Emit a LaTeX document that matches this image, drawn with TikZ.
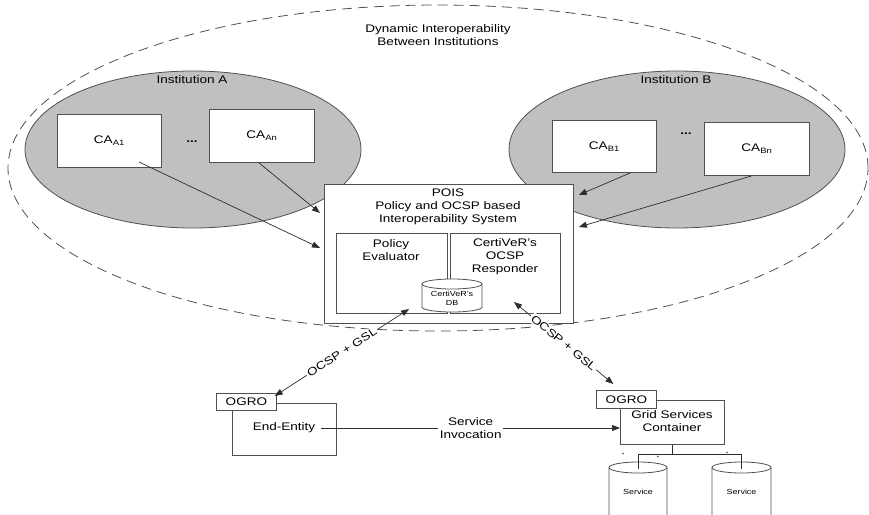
\documentclass[tikz,border=0pt]{standalone}
\usepackage{fontspec}
\setmainfont{Liberation Sans}[FakeStretch=1.23]
\usetikzlibrary{arrows.meta,calc}
\definecolor{boxc}{RGB}{80,80,80}
\definecolor{arrc}{RGB}{45,45,45}
\definecolor{instfill}{RGB}{192,192,192}
\begin{document}
\begin{tikzpicture}[x=1pt,y=1pt,
  every node/.style={font=\fontsize{11}{13}\selectfont, inner sep=0pt},
  box/.style={draw=boxc, line width=0.8pt, fill=white, anchor=north west, inner sep=0pt},
  inst/.style={draw=boxc, line width=0.8pt, fill=instfill},
  tip/.style={Triangle[length=8pt,width=6pt]},
  arr/.style={draw=arrc, line width=0.7pt, -{Triangle[length=8pt,width=6pt]}},
  darr/.style={draw=arrc, line width=0.7pt, {Triangle[length=8pt,width=6pt]}-{Triangle[length=8pt,width=6pt]}},
  lbl/.style={fill=white, inner sep=1.5pt},
  small/.style={font=\fontsize{7.3}{9}\selectfont},
  tiny/.style={font=\fontsize{5}{6}\selectfont},
  treeline/.style={draw=arrc, line width=0.7pt},
  cyl/.style={draw=boxc, line width=0.8pt, fill=white},
]
\useasboundingbox (0,0) rectangle (869,-514);
\clip (0,0) rectangle (869,-514);
\fill[white] (0,0) rectangle (869,-514);

% outer dashed region
\draw[boxc, line width=0.8pt, dash pattern=on 10pt off 6pt] (438,-168) ellipse [x radius=430, y radius=163];
\node[align=center] (dyn) at (438,-35) {Dynamic Interoperability\\Between Institutions};

% institutions
\draw[inst] (193,-149.5) ellipse [x radius=168, y radius=78.5];
\draw[inst] (677,-149.5) ellipse [x radius=168, y radius=78.5];
\node (insta) at (192,-80) {Institution A};
\node (instb) at (676,-80) {Institution B};

% CA boxes
\node[box, minimum width=104, minimum height=53] (a1) at (57,-114) {CA\textsubscript{A1}};
\node[box, minimum width=105, minimum height=53] (an) at (209,-109) {CA\textsubscript{An}};
\node[box, minimum width=104, minimum height=52] (b1) at (552,-120) {CA\textsubscript{B1}};
\node[box, minimum width=105, minimum height=53] (bn) at (704,-122) {CA\textsubscript{Bn}};
\node (dotsa) at (192,-142) {\bfseries ...};
\node (dotsb) at (686,-134) {\bfseries ...};

% POIS
\node[box, minimum width=249, minimum height=139] (pois) at (324,-184) {};
\node[align=center] (poist) at (448,-207) {POIS\\Policy and OCSP based\\Interoperability System};
\node[box, minimum width=111, minimum height=80] (pe) at (336,-233) {};
\node[box, minimum width=110, minimum height=80] (resp) at (450,-233) {};
\node[align=center] (pet) at (391,-250.5) {Policy\\Evaluator};
\node[align=center] (respt) at (505,-257) {CertiVeR’s\\OCSP\\Responder};
% DB cylinder
\draw[cyl] (422,-284) -- (422,-307) arc[start angle=180,end angle=360,x radius=30,y radius=5] -- (482,-284) arc[start angle=0,end angle=180,x radius=30,y radius=5] -- cycle;
\draw[boxc, line width=0.8pt] (422,-284) arc[start angle=180,end angle=360,x radius=30,y radius=5];
\node[small, align=center] (db) at (452,-298) {CertiVeR’s\\DB};

% CA arrows
\coordinate (a1s) at (139,-162);
\coordinate (ans) at ($(an.south)+(-3,0)$);
\coordinate (b1s) at ($(b1.south)+(26,0)$);
\coordinate (bns) at ($(bn.south)+(-5,0)$);
\coordinate (pin1) at ($(pois.north west)+(-4,-64)$);
\coordinate (pin2) at ($(pois.north west)+(-4,-29)$);
\coordinate (pin3) at ($(pois.north east)+(5,-11)$);
\coordinate (pin4) at ($(pois.north east)+(5,-43)$);
\draw[arr] (a1s) -- (pin1);
\draw[arr] (ans) -- (pin2);
\draw[arr] (b1s) -- (pin3);
\draw[arr] (bns) -- (pin4);

% End-Entity side
\node[box, minimum width=104, minimum height=52] (ee) at (232,-403) {};
\node[box, minimum width=60, minimum height=17] (ogrol) at (216,-393) {OGRO};
\node[inner sep=2pt] (eet) at (284,-428) {End-Entity};

% Grid side
\node[box, minimum width=104, minimum height=44] (gsc) at (620,-400) {};
\node[box, minimum width=60, minimum height=18] (ogror) at (596,-390) {OGRO};
\node[align=center] (gsct) at (672,-421.5) {Grid Services\\Container};

% services
\draw[cyl] (609,-467.5) -- (609,-540) -- (667,-540) -- (667,-467.5) arc[start angle=0,end angle=180,x radius=29,y radius=5.5] -- cycle;
\draw[boxc, line width=0.8pt] (609,-467.5) arc[start angle=180,end angle=360,x radius=29,y radius=5.5];
\draw[cyl] (712,-467.5) -- (712,-540) -- (771,-540) -- (771,-467.5) arc[start angle=0,end angle=180,x radius=29.5,y radius=5.5] -- cycle;
\draw[boxc, line width=0.8pt] (712,-467.5) arc[start angle=180,end angle=360,x radius=29.5,y radius=5.5];
\node[small] (s1) at (638,-492) {Service};
\node[small] (s2) at (741.5,-492) {Service};
\coordinate (tj) at ($(gsc.south)+(0,-10)$);
\coordinate (tl) at (638,-454);
\coordinate (tr) at (741,-454);
\draw[treeline] (gsc.south) -- (tj);
\draw[treeline] (tl) -- (tr);
\draw[treeline] (tl) -- ++(0,-15);
\draw[treeline] (tr) -- ++(0,-15);
\node[tiny] (m1) at (623,-455) {*};
\node[tiny] (m2) at (658,-458) {*};
\node[tiny] (m3) at (727,-454) {*};

% OCSP + GSL connectors
\coordinate (dbtip) at (409,-309);
\coordinate (eetip) at ($(ogrol.north east)+(-2,-3)$);
\coordinate (resptip) at (514,-302);
\coordinate (gsctip) at ($(ogror.north)+(-13,6)$);
\draw[darr] (eetip) -- node[lbl, sloped, pos=0.5] {OCSP + GSL} (dbtip);
\draw[darr] (resptip) -- node[lbl, sloped, pos=0.5] {OCSP + GSL} (gsctip);

% service invocation
\draw[arr] ($(eet.east)+(4,0)$) -- node[lbl, align=center, pos=0.5] {Service\\Invocation} (eet.east -| gsc.west);
\end{tikzpicture}
\end{document}
